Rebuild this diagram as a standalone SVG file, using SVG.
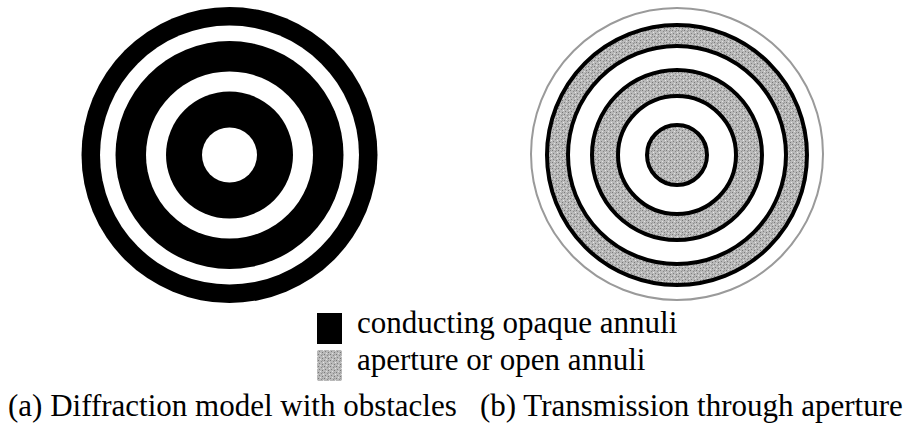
<svg xmlns="http://www.w3.org/2000/svg" width="919" height="432" viewBox="0 0 919 432">
  <defs>
    <pattern id="grain" width="6" height="6" patternUnits="userSpaceOnUse">
      <rect width="6" height="6" fill="#b9b9b9"/>
      <rect x="0" y="0" width="1" height="1" fill="#7a7a7a"/>
      <rect x="3" y="1" width="1" height="1" fill="#8a8a8a"/>
      <rect x="1" y="3" width="1" height="1" fill="#808080"/>
      <rect x="4" y="4" width="1" height="1" fill="#777"/>
      <rect x="2" y="5" width="1" height="1" fill="#e0e0e0"/>
      <rect x="5" y="2" width="1" height="1" fill="#e6e6e6"/>
      <rect x="4" y="0" width="1" height="1" fill="#999"/>
    </pattern>
  </defs>
  <style>
    .blk { fill: #000; }
    .wht { fill: #fff; }
    .gry { fill: url(#grain); }
    .ring { fill: none; stroke: #000; stroke-width: 4; }
    .txt { font-family: "Liberation Serif", "Times New Roman", serif; font-size: 31px; fill: #000; }
  </style>
  <rect width="919" height="432" fill="#fff"/>

  <g id="diagram-a">
    <circle class="blk" cx="229.5" cy="155" r="148"/>
    <circle class="wht" cx="229.5" cy="155" r="129.5"/>
    <circle class="blk" cx="229.5" cy="155" r="114"/>
    <circle class="wht" cx="229.5" cy="155" r="83.5"/>
    <circle class="blk" cx="229.5" cy="155" r="63.5"/>
    <circle class="wht" cx="229.5" cy="155" r="27.5"/>
  </g>

  <g id="diagram-b">
    <circle cx="677" cy="154" r="146" fill="none" stroke="#9a9a9a" stroke-width="2"/>
    <circle class="gry" cx="677" cy="155" r="130"/>
    <circle class="wht" cx="677" cy="155" r="109"/>
    <circle class="gry" cx="677" cy="155" r="85"/>
    <circle class="wht" cx="677" cy="155" r="59"/>
    <circle class="gry" cx="677" cy="155" r="30"/>
    <circle class="ring" cx="677" cy="155" r="130"/>
    <circle class="ring" cx="677" cy="155" r="109"/>
    <circle class="ring" cx="677" cy="155" r="85"/>
    <circle class="ring" cx="677" cy="155" r="59"/>
    <circle class="ring" cx="677" cy="155" r="30"/>
  </g>

  <g id="legend">
    <rect class="blk" x="317" y="313" width="25" height="31"/>
    <text class="txt" x="357" y="333">conducting opaque annuli</text>
    <rect class="gry" x="317" y="350" width="25" height="31"/>
    <text class="txt" x="357" y="370">aperture or open annuli</text>
  </g>

  <g id="captions">
    <text class="txt" x="8" y="416">(a) Diffraction model with obstacles</text>
    <text class="txt" x="480" y="416">(b) Transmission through aperture</text>
  </g>
</svg>
